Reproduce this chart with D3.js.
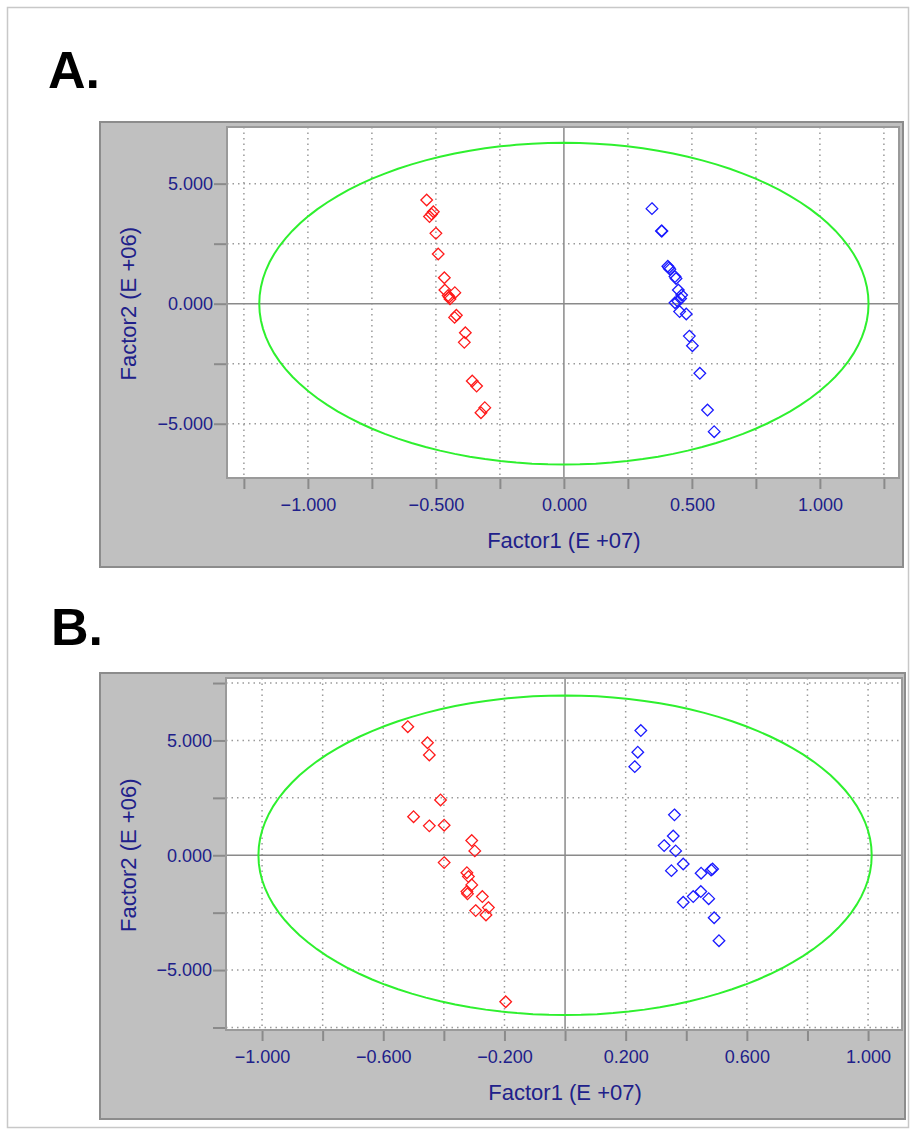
<!DOCTYPE html>
<html>
<head>
<meta charset="UTF-8">
<title>Factor plots</title>
<script src="https://cdn.jsdelivr.net/npm/d3@7"></script>
<style>
  body { margin: 0; background: #fff; }
  text { font-family: "Liberation Sans", Arial, sans-serif; }
  .tick text { fill: #20208a; font-size: 18px; }
  .tick line { stroke: #8a8a8a; stroke-width: 2px; }
  .axis path { display: none; }
</style>
</head>
<body>
<div id="chart"></div>
<script>
// ---- data: panel A ----
var aRedX  = [-0.536, -0.510, -0.525, -0.517, -0.500, -0.491, -0.467, -0.465, -0.426, -0.448, -0.445, -0.452, -0.427, -0.420, -0.385, -0.389, -0.358, -0.341, -0.309, -0.324];
var aRedY  = [ 4.32,   3.83,   3.63,   3.73,   2.93,   2.07,   1.08,   0.57,   0.46,   0.28,   0.20,   0.34,  -0.57,  -0.48,  -1.21,  -1.61,  -3.22,  -3.43,  -4.33,  -4.54];
var aBlueX = [0.344, 0.381, 0.383, 0.406, 0.410, 0.414, 0.434, 0.438, 0.447, 0.460, 0.456, 0.434, 0.445, 0.452, 0.478, 0.490, 0.502, 0.531, 0.561, 0.587];
var aBlueY = [3.96,  3.03,  3.03,  1.56,  1.50,  1.44,  1.13,  1.05,  0.57,  0.36,  0.22,  0.04,  0.10, -0.33, -0.43, -1.35, -1.75, -2.90, -4.43, -5.33];

// ---- data: panel B ----
var bRedX  = [-0.519, -0.454, -0.448, -0.411, -0.500, -0.448, -0.399, -0.308, -0.298, -0.399, -0.324, -0.319, -0.308, -0.324, -0.322, -0.273, -0.295, -0.253, -0.261, -0.196];
var bRedY  = [ 5.60,   4.90,   4.37,   2.41,   1.68,   1.28,   1.31,   0.64,   0.19,  -0.32,  -0.76,  -0.93,  -1.29,  -1.58,  -1.68,  -1.80,  -2.41,  -2.28,  -2.60,  -6.38];
var bBlueX = [0.250, 0.240, 0.230, 0.361, 0.357, 0.327, 0.365, 0.390, 0.351, 0.449, 0.482, 0.487, 0.448, 0.423, 0.474, 0.390, 0.492, 0.508];
var bBlueY = [5.43,  4.49,  3.86,  1.76,  0.84,  0.42,  0.19, -0.38, -0.67, -0.78, -0.64, -0.60, -1.58, -1.80, -1.89, -2.05, -2.72, -3.72];

// ---- ticks / labels ----
var aXTicks = [-1.25, -1.0, -0.75, -0.5, -0.25, 0, 0.25, 0.5, 0.75, 1.0, 1.25];
var aXLabels = [-1.0, -0.5, 0, 0.5, 1.0];
var bXTicks = [-1.0, -0.8, -0.6, -0.4, -0.2, 0, 0.2, 0.4, 0.6, 0.8, 1.0];
var bXLabels = [-1.0, -0.6, -0.2, 0.2, 0.6, 1.0];
var aYTicks = [-5, -2.5, 0, 2.5, 5];
var bYTicks = [-7.5, -5, -2.5, 0, 2.5, 5, 7.5];
var yLabels = [-5, 0, 5];

// ellipse semi-axes (Factor1, Factor2)
var aEllipse = [1.19, 6.70];
var bEllipse = [1.012, 6.96];

var W = 914, H = 1134;
var svg = d3.select("#chart").append("svg").attr("width", W).attr("height", H);

// outer frame
svg.append("rect").attr("x", 7.5).attr("y", 7.5).attr("width", 901).attr("height", 1120)
  .attr("fill", "none").attr("stroke", "#c8c8c8").attr("stroke-width", 1.5);

var fmt = d3.format(".3f");

function drawPanel(p) {
  // grey box
  svg.append("rect").attr("x", p.box[0]).attr("y", p.box[1])
    .attr("width", p.box[2] - p.box[0]).attr("height", p.box[3] - p.box[1])
    .attr("fill", "#c0c0c0").attr("stroke", "#8c8c8c").attr("stroke-width", 2);

  var x = d3.scaleLinear().domain(p.xdom).range([p.plot[0], p.plot[2]]);
  var y = d3.scaleLinear().domain(p.ydom).range([p.plot[3], p.plot[1]]);

  svg.append("rect").attr("x", p.plot[0]).attr("y", p.plot[1])
    .attr("width", p.plot[2] - p.plot[0]).attr("height", p.plot[3] - p.plot[1])
    .attr("fill", "#fff");

  var g = svg.append("g");
  // dotted grid
  g.selectAll(".vg").data(p.xTicks.filter(function(d){ return d != 0; })).enter().append("line")
    .attr("x1", function(d){ return x(d); }).attr("x2", function(d){ return x(d); })
    .attr("y1", p.plot[1]).attr("y2", p.plot[3])
    .attr("stroke", "#9a9a9a").attr("stroke-width", 1.5).attr("stroke-dasharray", "1.5,4");
  g.selectAll(".hg").data(p.yTicks.filter(function(d){ return d != 0; })).enter().append("line")
    .attr("y1", function(d){ return y(d); }).attr("y2", function(d){ return y(d); })
    .attr("x1", p.plot[0]).attr("x2", p.plot[2])
    .attr("stroke", "#9a9a9a").attr("stroke-width", 1.5).attr("stroke-dasharray", "1.5,4");
  // zero lines
  g.append("line").attr("x1", x(0)).attr("x2", x(0)).attr("y1", p.plot[1]).attr("y2", p.plot[3])
    .attr("stroke", "#8a8a8a").attr("stroke-width", 1.5);
  g.append("line").attr("y1", y(0)).attr("y2", y(0)).attr("x1", p.plot[0]).attr("x2", p.plot[2])
    .attr("stroke", "#8a8a8a").attr("stroke-width", 1.5);

  // plot border
  svg.append("rect").attr("x", p.plot[0]).attr("y", p.plot[1])
    .attr("width", p.plot[2] - p.plot[0]).attr("height", p.plot[3] - p.plot[1])
    .attr("fill", "none").attr("stroke", "#9a9a9a").attr("stroke-width", 2);

  // axes
  var xAxis = d3.axisBottom(x).tickValues(p.xTicks).tickSize(10).tickSizeOuter(0)
    .tickFormat(function(d){
      return p.xLabels.some(function(v){ return Math.abs(v - d) < 1e-9; }) ? fmt(d) : "";
    });
  svg.append("g").attr("class", "axis").attr("transform", "translate(0," + (p.plot[3] + 1) + ")")
    .call(xAxis)
    .selectAll("text").attr("dy", "1.05em");

  var yAxis = d3.axisLeft(y).tickValues(p.yTicks).tickSize(p.ytickLen).tickSizeOuter(0)
    .tickFormat(function(d){ return yLabels.indexOf(d) >= 0 ? fmt(d) : ""; });
  svg.append("g").attr("class", "axis").attr("transform", "translate(" + (p.plot[0] - 1) + ",0)")
    .call(yAxis)
    .selectAll("text").attr("x", -13);

  // axis titles
  svg.append("text").attr("x", x(0)).attr("y", p.plot[3] + 70)
    .attr("text-anchor", "middle").attr("fill", "#20208a").attr("font-size", 22)
    .text("Factor1 (E +07)");
  svg.append("text")
    .attr("transform", "translate(136," + y(0) + ") rotate(-90)")
    .attr("text-anchor", "middle").attr("fill", "#20208a").attr("font-size", 22)
    .text("Factor2 (E +06)");

  // ellipse
  var angles = d3.range(0, 361, 3);
  var ell = d3.line()
    .x(function(a){ return x(p.ellipse[0] * Math.cos(a * Math.PI / 180)); })
    .y(function(a){ return y(p.ellipse[1] * Math.sin(a * Math.PI / 180)); });
  svg.append("path").attr("d", ell(angles))
    .attr("fill", "none").attr("stroke", "#2ef02e").attr("stroke-width", 2);

  // points
  var diamond = "M0,-5.8L5.8,0L0,5.8L-5.8,0Z";
  function drawPts(xs, ys, col) {
    svg.append("g").selectAll("path").data(xs).enter().append("path")
      .attr("d", diamond)
      .attr("transform", function(d, i){ return "translate(" + x(d) + "," + y(ys[i]) + ")"; })
      .attr("fill", "none").attr("stroke", col).attr("stroke-width", 1.3);
  }
  drawPts(p.redX, p.redY, "#ff1a1a");
  drawPts(p.blueX, p.blueY, "#1a1aff");

  // panel letter
  svg.append("text").attr("x", p.letterPos[0]).attr("y", p.letterPos[1])
    .attr("font-size", 52).attr("font-weight", "bold").attr("fill", "#000")
    .text(p.letter);
}

drawPanel({
  letter: "A.", letterPos: [48, 88],
  box: [100, 122, 903, 567], plot: [227, 127, 899, 478],
  xdom: [-1.316, 1.309], ydom: [-7.26, 7.36],
  xTicks: aXTicks, xLabels: aXLabels, yTicks: aYTicks, ytickLen: 12,
  ellipse: aEllipse,
  redX: aRedX, redY: aRedY, blueX: aBlueX, blueY: aBlueY
});

drawPanel({
  letter: "B.", letterPos: [51, 645],
  box: [100, 673, 905, 1119], plot: [226, 678, 902, 1030],
  xdom: [-1.119, 1.112], ydom: [-7.61, 7.72],
  xTicks: bXTicks, xLabels: bXLabels, yTicks: bYTicks, ytickLen: 12,
  ellipse: bEllipse,
  redX: bRedX, redY: bRedY, blueX: bBlueX, blueY: bBlueY
});
</script>
</body>
</html>
